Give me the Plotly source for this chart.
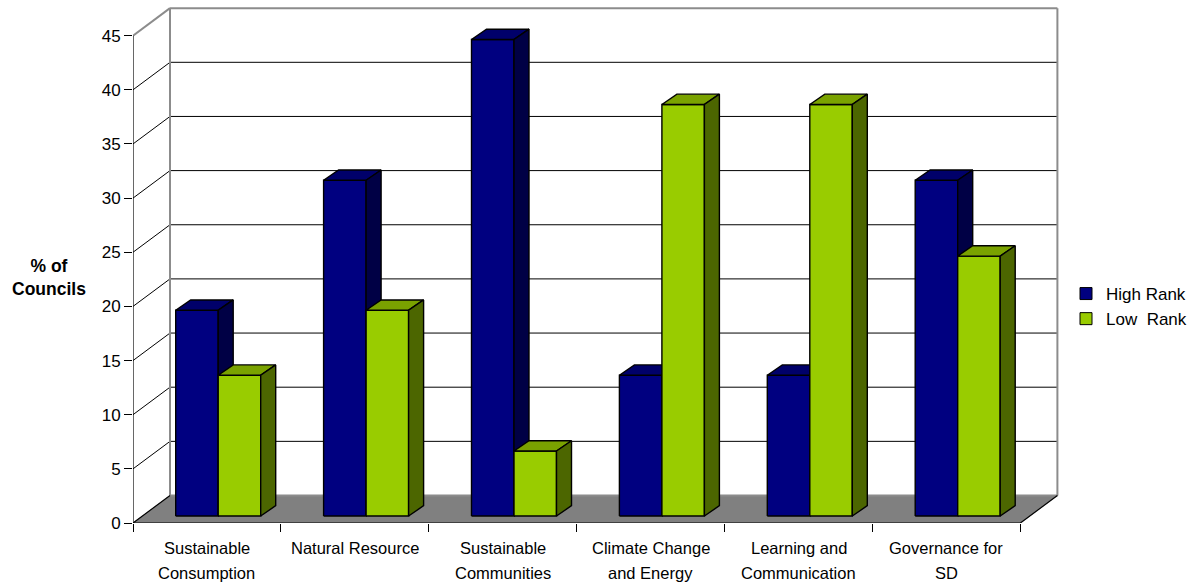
import plotly.graph_objects as go

# ---- data -------------------------------------------------------------
categories = [
    "Sustainable\nConsumption",
    "Natural Resource",
    "Sustainable\nCommunities",
    "Climate Change\nand Energy",
    "Learning and\nCommunication",
    "Governance for\nSD",
]
high_rank = [19, 31, 44, 13, 13, 31]
low_rank = [13, 19, 6, 38, 38, 24]
series_names = ["High Rank", "Low\u00a0\u00a0Rank"]
y_ticks = [0, 5, 10, 15, 20, 25, 30, 35, 40, 45]
y_max = 45

# ---- page geometry (pixels) ---------------------------------------------
W, H = 1189, 583
M_L, M_R, M_T, M_B = 133, 129, 6, 60
PX_PER_CAT = 147.9          # horizontal size of one category slot
PX_PER_UNIT = 10.83         # vertical size of one value unit

n = len(categories)
x_range = [0, (W - M_L - M_R) / PX_PER_CAT]
y_range = [0, (H - M_T - M_B) / PX_PER_UNIT]

# oblique projection offsets, converted to data units
WALL_DX = 37 / PX_PER_CAT
WALL_DY = 27.5 / PX_PER_UNIT
BAR_LIFT_X = 9.5 / PX_PER_CAT
BAR_LIFT_Y = 7 / PX_PER_UNIT
BAR_LEFT = 33.2 / PX_PER_CAT
BAR_W = 42.5 / PX_PER_CAT
BAR_DX = 15 / PX_PER_CAT
BAR_DY = 10.3 / PX_PER_UNIT

FONT = "Liberation Sans, Arial, sans-serif"
GRID = "#000000"
WALL = "#8c8c8c"
FLOOR = "#808080"

colors = {
    0: dict(front="#000080", top="#00006a", side="#000045"),
    1: dict(front="#99cc00", top="#7aa200", side="#4c6600"),
}

traces = []


def segs(pairs, color, width):
    xs, ys = [], []
    for (x0, y0), (x1, y1) in pairs:
        xs += [x0, x1, None]
        ys += [y0, y1, None]
    return go.Scatter(x=xs, y=ys, mode="lines", line=dict(color=color, width=width),
                      hoverinfo="skip", showlegend=False)


def poly(pts, fill, line_color="#000000", width=1.4):
    xs = [p[0] for p in pts] + [pts[0][0]]
    ys = [p[1] for p in pts] + [pts[0][1]]
    return go.Scatter(x=xs, y=ys, mode="lines", fill="toself", fillcolor=fill,
                      line=dict(color=line_color, width=width),
                      hoverinfo="skip", showlegend=False)


# back wall gridlines and left wall diagonals
inner = [v for v in y_ticks if 0 < v < y_max]
traces.append(segs([((WALL_DX, v + WALL_DY), (n + WALL_DX, v + WALL_DY)) for v in inner], GRID, 1))
traces.append(segs([((0, v), (WALL_DX, v + WALL_DY)) for v in inner], GRID, 1))

# floor
traces.append(poly([(0, 0), (n, 0), (n + WALL_DX, WALL_DY), (WALL_DX, WALL_DY)], FLOOR, FLOOR, 0.5))

# wall outline
traces.append(segs([
    ((WALL_DX, WALL_DY), (WALL_DX, y_max + WALL_DY)),
    ((WALL_DX, y_max + WALL_DY), (n + WALL_DX, y_max + WALL_DY)),
    ((n + WALL_DX, y_max + WALL_DY), (n + WALL_DX, WALL_DY)),
    ((0, y_max), (WALL_DX, y_max + WALL_DY)),
    ((WALL_DX, WALL_DY), (n + WALL_DX, WALL_DY)),
], WALL, 2))

# floor side edges, value axis and category axis lines
traces.append(segs([
    ((0, 0), (WALL_DX, WALL_DY)),
    ((n, 0), (n + WALL_DX, WALL_DY)),
    ((0, 0), (0, y_max)),
    ((0, 0), (n, 0)),
], "#000000", 1.2))

# 3D columns
for i in range(n):
    for s, vals in enumerate([high_rank, low_rank]):
        v = vals[i]
        c = colors[s]
        x0 = i + BAR_LEFT + BAR_LIFT_X + s * BAR_W
        x1 = x0 + BAR_W
        y0 = BAR_LIFT_Y
        y1 = BAR_LIFT_Y + v
        traces.append(poly([(x0, y0), (x1, y0), (x1, y1), (x0, y1)], c["front"]))
        traces.append(poly([(x0, y1), (x1, y1), (x1 + BAR_DX, y1 + BAR_DY), (x0 + BAR_DX, y1 + BAR_DY)], c["top"]))
        traces.append(poly([(x1, y0), (x1 + BAR_DX, y0 + BAR_DY), (x1 + BAR_DX, y1 + BAR_DY), (x1, y1)], c["side"]))

# legend entries
for s, name in enumerate(series_names):
    traces.append(go.Bar(x=[None], y=[None], name=name,
                         marker=dict(color=colors[s]["front"], line=dict(color="#000000", width=1))))

fig = go.Figure(traces)


def px_to_paper_x(px):
    return (px - M_L) / (W - M_L - M_R)


def px_to_paper_y(py):
    return (H - M_B - py) / (H - M_T - M_B)


annotations = []
for i, label in enumerate(categories):
    for k, line in enumerate(label.split("\n")):
        annotations.append(dict(
            x=i + 0.5, xref="x", y=px_to_paper_y(548 + 25 * k), yref="paper",
            text=line, showarrow=False, xanchor="center", yanchor="middle",
            font=dict(family=FONT, size=16.5, color="#000000")))

annotations.append(dict(
    x=px_to_paper_x(49), xref="paper", y=px_to_paper_y(277.5), yref="paper",
    text="<b>% of<br>Councils</b>", showarrow=False, xanchor="center", yanchor="middle",
    align="center", font=dict(family=FONT, size=17.5, color="#000000")))

fig.update_layout(
    width=W, height=H,
    margin=dict(l=M_L, r=M_R, t=M_T, b=M_B, pad=0, autoexpand=False),
    paper_bgcolor="white", plot_bgcolor="white",
    font=dict(family=FONT, size=17, color="#000000"),
    showlegend=True,
    legend=dict(xref="container", yref="container",
                x=1066 / W, y=1 - 276 / H, xanchor="left", yanchor="top",
                bgcolor="rgba(0,0,0,0)", font=dict(family=FONT, size=17, color="#000000"),
                itemclick=False, itemdoubleclick=False),
    annotations=annotations,
    xaxis=dict(range=x_range, showgrid=False, zeroline=False, showline=False,
               tickmode="array", tickvals=list(range(n + 1)), ticktext=[""] * (n + 1),
               ticks="outside", ticklen=8, tickcolor="#000000", tickwidth=1,
               fixedrange=True),
    yaxis=dict(range=y_range, showgrid=False, zeroline=False, showline=False,
               tickmode="array", tickvals=y_ticks, ticktext=[str(v) for v in y_ticks],
               ticks="outside", ticklen=8, tickcolor="#000000", tickwidth=1,
               tickfont=dict(family=FONT, size=17, color="#000000"),
               fixedrange=True),
)

fig.write_html("out.html")
